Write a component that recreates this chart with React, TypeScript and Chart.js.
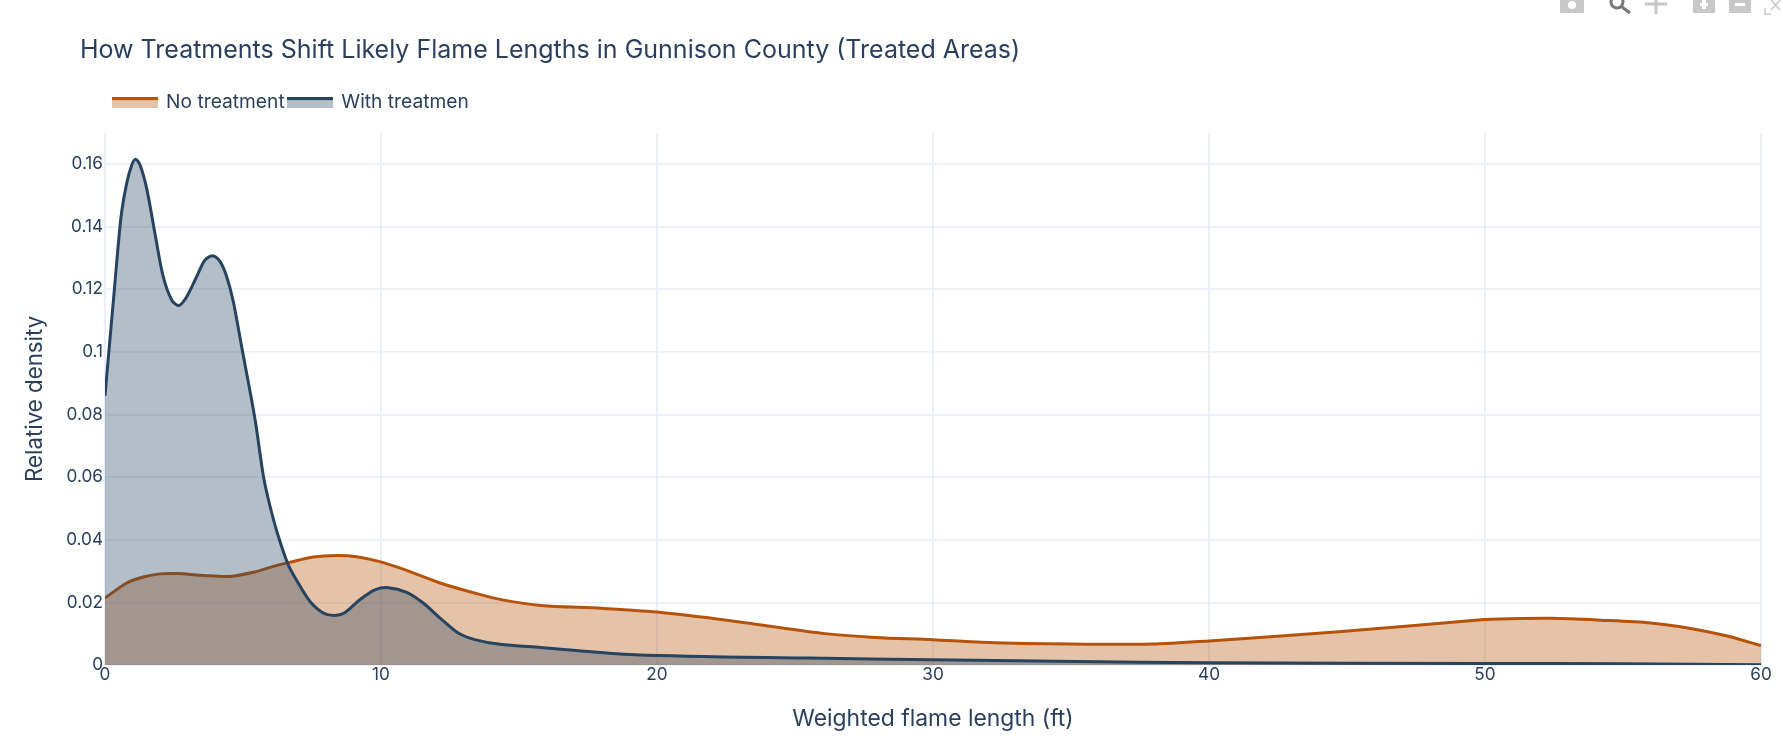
import React, { useEffect, useRef } from "react";
import { Chart, registerables } from "chart.js";

Chart.register(...registerables);

const TITLE = "How Treatments Shift Likely Flame Lengths in Gunnison County (Treated Areas)";
const X_TITLE = "Weighted flame length (ft)";
const Y_TITLE = "Relative density";
const LABEL_NO = "No treatment";
const LABEL_WITH = "With treatmen";
const X_TICK_STEP = 10;
const Y_TICK_STEP = 0.02;

const noTreatmentX = [0, 0.79, 1.39, 1.99, 2.6, 3.44, 4.53, 5.37, 6.1, 6.7, 7.55, 8.39, 9.12, 9.96, 10.93, 12.14, 13.47, 14.4, 15.79, 18, 20, 22.6, 26, 27.9, 30, 31.76, 35, 37.9, 40, 44.7, 49.97, 50.57, 52.4, 54.2, 56, 57.5, 58.7, 60];
const noTreatmentY = [0.0214, 0.0262, 0.0281, 0.0291, 0.0292, 0.0287, 0.0283, 0.0296, 0.0315, 0.0328, 0.0345, 0.035, 0.0346, 0.033, 0.0302, 0.0262, 0.0228, 0.0208, 0.019, 0.0181, 0.0169, 0.0142, 0.0101, 0.0088, 0.0081, 0.0073, 0.0067, 0.0067, 0.0077, 0.0106, 0.0145, 0.0147, 0.0149, 0.0143, 0.0134, 0.0116, 0.0094, 0.0062];

const withTreatmentX = [0, 0.34, 0.58, 0.785, 0.97, 1.11, 1.27, 1.51, 1.81, 2.11, 2.42, 2.68, 2.96, 3.32, 3.62, 3.9, 4.17, 4.41, 4.65, 4.95, 5.43, 5.74, 5.98, 6.28, 6.64, 7, 7.43, 7.91, 8.33, 8.7, 9.24, 9.78, 10.27, 10.93, 11.53, 12.14, 12.8, 13.4, 14.31, 15.79, 19.2, 25.5, 30, 37.5, 40, 50, 55, 60];
const withTreatmentY = [0.086, 0.12, 0.143, 0.1538, 0.1597, 0.1615, 0.1597, 0.1522, 0.1378, 0.124, 0.1165, 0.1148, 0.1176, 0.124, 0.1293, 0.1307, 0.1288, 0.124, 0.116, 0.1017, 0.0788, 0.0603, 0.0507, 0.0411, 0.032, 0.0262, 0.0203, 0.0166, 0.0158, 0.0168, 0.0209, 0.024, 0.0247, 0.0232, 0.0198, 0.015, 0.0102, 0.0081, 0.0066, 0.0056, 0.0033, 0.0022, 0.0017, 0.0009, 0.0007, 0.0005, 0.0004, 0.0001];

const ORANGE = "#b45309";
const ORANGE_FILL = "rgba(180,83,9,0.35)";
const NAVY = "#264460";
const NAVY_FILL = "rgba(38,68,96,0.35)";
const TEXT = "#2a3f5f";
const GRID = "#ebf0f8";
const FONT = "Inter";

const toPoints = (xs: number[], ys: number[]) => xs.map((x, i) => ({ x, y: ys[i] }));

function swatch(line: string, fill: string) {
  const c = document.createElement("canvas");
  c.width = 46;
  c.height = 11;
  const g = c.getContext("2d")!;
  g.fillStyle = fill;
  g.fillRect(0, 0, 46, 11);
  g.fillStyle = line;
  g.fillRect(0, 0, 46, 3);
  return c;
}

const placeBlocks = {
  id: "placeBlocks",
  afterLayout(chart: any) {
    if (chart.titleBlock) chart.titleBlock.left = 80;
    if (chart.legend) {
      chart.legend.left = 109.5;
      chart.legend.top = 89;
    }
  },
};

const modebar = {
  id: "modebar",
  afterDraw(chart: any) {
    const g = chart.ctx;
    g.save();
    g.fillStyle = "#c8c8c8";
    g.strokeStyle = "#c8c8c8";
    g.fillRect(1560, 0, 24, 13);
    g.fillStyle = "#fff";
    g.beginPath();
    g.arc(1572, 5, 4, 0, Math.PI * 2);
    g.fill();
    g.strokeStyle = "#777";
    g.lineWidth = 3;
    g.beginPath();
    g.arc(1617, 2, 6, 0, Math.PI * 2);
    g.moveTo(1622, 7);
    g.lineTo(1630, 13);
    g.stroke();
    g.strokeStyle = "#c8c8c8";
    g.lineWidth = 3;
    g.beginPath();
    g.moveTo(1645, 4);
    g.lineTo(1667, 4);
    g.moveTo(1656, 0);
    g.lineTo(1656, 14);
    g.stroke();
    g.fillStyle = "#c8c8c8";
    g.fillRect(1693, 0, 22, 13);
    g.fillRect(1729, 0, 22, 13);
    g.fillStyle = "#fff";
    g.fillRect(1700, 3, 8, 3);
    g.fillRect(1702, 0, 4, 9);
    g.fillRect(1735, 3, 10, 3);
    g.lineWidth = 1.5;
    g.strokeStyle = "#c8c8c8";
    g.beginPath();
    g.moveTo(1765, 8);
    g.lineTo(1765, 14);
    g.lineTo(1771, 14);
    g.moveTo(1771, 0);
    g.lineTo(1780, 10);
    g.moveTo(1780, 0);
    g.lineTo(1771, 10);
    g.stroke();
    g.restore();
  },
};

export default function App() {
  const ref = useRef<HTMLCanvasElement>(null);
  useEffect(() => {
    const swatches = [swatch(ORANGE, "#e5c3a9"), swatch(NAVY, "#b3bec7")];
    const chart = new Chart(ref.current!, {
      type: "line",
      data: {
        datasets: [
          {
            label: LABEL_NO,
            data: toPoints(noTreatmentX, noTreatmentY),
            borderColor: ORANGE,
            backgroundColor: ORANGE_FILL,
            borderWidth: 3,
            pointRadius: 0,
            tension: 0.3,
            fill: "origin",
            order: 2,
          },
          {
            label: LABEL_WITH,
            data: toPoints(withTreatmentX, withTreatmentY),
            borderColor: NAVY,
            backgroundColor: NAVY_FILL,
            borderWidth: 3,
            pointRadius: 0,
            tension: 0.3,
            fill: "origin",
            order: 1,
          },
        ],
      },
      plugins: [placeBlocks, modebar],
      options: {
        animation: false,
        responsive: false,
        devicePixelRatio: 1,
        layout: { padding: { left: 0, right: 22, top: 0, bottom: 0 } },
        plugins: {
          tooltip: { enabled: false },
          title: {
            display: true,
            text: TITLE,
            align: "start",
            color: TEXT,
            font: { family: FONT, size: 25, weight: "normal", lineHeight: 1.2 },
            padding: { top: 35, bottom: 34.5 },
          },
          legend: {
            display: true,
            position: "top",
            align: "start",
            labels: {
              color: TEXT,
              font: { family: FONT, size: 19.2 },
              usePointStyle: true,
              pointStyleWidth: 43,
              padding: 4,
              generateLabels: () => [
                { text: LABEL_NO, pointStyle: swatches[0], fontColor: TEXT, lineWidth: 0, datasetIndex: 0 },
                { text: LABEL_WITH, pointStyle: swatches[1], fontColor: TEXT, lineWidth: 0, datasetIndex: 1 },
              ],
            },
          },
        },
        scales: {
          x: {
            type: "linear",
            min: 0,
            max: 60,
            border: { display: false },
            grid: { color: GRID, lineWidth: 2, drawTicks: false },
            ticks: { stepSize: X_TICK_STEP, color: TEXT, font: { family: FONT, size: 17.2 }, padding: 0, maxRotation: 0 },
            title: { display: true, text: X_TITLE, color: TEXT, font: { family: FONT, size: 22.9 }, padding: { top: 0, bottom: 10 } },
            afterFit: (s: any) => {
              s.height = 78;
            },
          },
          y: {
            type: "linear",
            min: 0,
            max: 0.17,
            border: { display: false },
            grid: { color: GRID, lineWidth: 1.7, drawTicks: false },
            ticks: {
              stepSize: Y_TICK_STEP,
              includeBounds: false,
              color: TEXT,
              font: { family: FONT, size: 17.2 },
              padding: 2,
              callback: (v: any) => String(Number(Number(v).toFixed(2))),
            },
            title: { display: true, text: Y_TITLE, color: TEXT, font: { family: FONT, size: 22.3 }, padding: { top: 22, bottom: 0 } },
            afterFit: (s: any) => {
              s.width = 105;
            },
          },
        },
      },
    } as any);
    return () => chart.destroy();
  }, []);
  return (
    <canvas
      ref={ref}
      width={1783}
      height={743}
      style={{ position: "fixed", left: 0, top: 0, width: 1783, height: 743, display: "block" }}
    />
  );
}
